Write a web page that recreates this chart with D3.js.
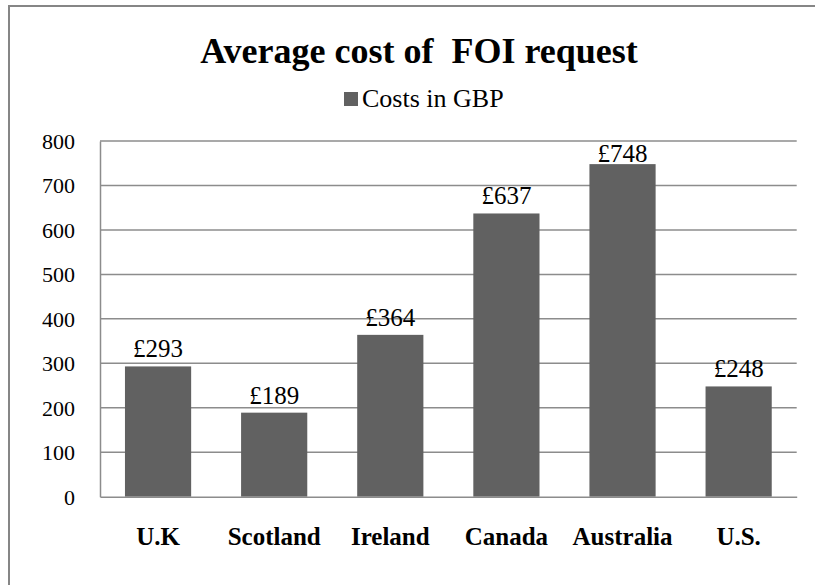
<!DOCTYPE html>
<html>
<head>
<meta charset="utf-8">
<script src="https://cdn.jsdelivr.net/npm/d3@7"></script>
<style>
html,body{margin:0;padding:0;background:#fff;}
svg{display:block;}
</style>
</head>
<body>
<svg id="chart" width="815" height="585"></svg>
<script>
const categories = ["U.K","Scotland","Ireland","Canada","Australia","U.S."];
const costs = [293,189,364,637,748,248];
const valueLabels = ["£293","£189","£364","£637","£748","£248"];
const yTicks = [0,100,200,300,400,500,600,700,800];
const seriesName = "Costs in GBP";
const titleText = "Average cost of  FOI request";

const FONT = "'Liberation Serif', 'Times New Roman', Times, serif";
const svg = d3.select("#chart");
const W = 815, H = 585;
const plot = {left:100, right:796.7, top:141, bottom:496.7};

svg.append("rect")
  .attr("x",9).attr("y",6).attr("width",W+20).attr("height",H+20)
  .attr("fill","#fff").attr("stroke","#868686").attr("stroke-width",2);

const x = d3.scaleBand().domain(categories)
  .range([plot.left, plot.right]).paddingInner(0.43).paddingOuter(0.215);
const y = d3.scaleLinear().domain([0,800]).range([plot.bottom, plot.top]);

svg.append("g").selectAll("line").data(yTicks.filter(d=>d>0)).join("line")
  .attr("x1",plot.left).attr("x2",plot.right)
  .attr("y1",d=>y(d)).attr("y2",d=>y(d))
  .attr("stroke","#8c8c8c").attr("stroke-width",1.5);

const yAxis = d3.axisLeft(y).tickValues(yTicks).tickSize(0).tickPadding(25);
const gy = svg.append("g").attr("transform",`translate(${plot.left},0)`).call(yAxis);
gy.attr("font-family",null).attr("font-size",null);
gy.select(".domain").attr("stroke","#8c8c8c").attr("stroke-width",1.5);
gy.selectAll("text").style("font-family",FONT).style("font-size","22px").style("fill","#000").attr("dy","0.34em");

svg.append("g").selectAll("rect").data(costs).join("rect")
  .attr("x",(d,i)=>x(categories[i]))
  .attr("y",d=>y(d))
  .attr("width",x.bandwidth())
  .attr("height",d=>plot.bottom-y(d))
  .attr("fill","#616161");

const xAxis = d3.axisBottom(x).tickSize(0).tickPadding(31);
const gx = svg.append("g").attr("transform",`translate(0,${plot.bottom})`).call(xAxis);
gx.attr("font-family",null).attr("font-size",null);
gx.select(".domain").attr("stroke","#8c8c8c").attr("stroke-width",1.5);
gx.selectAll("text").style("font-family",FONT).style("font-size","25px").style("font-weight","bold").style("fill","#000");

svg.append("g").selectAll("text").data(costs).join("text")
  .attr("x",(d,i)=>x(categories[i])+x.bandwidth()/2)
  .attr("y",d=>Math.max(y(d)-9, plot.top+21))
  .attr("text-anchor","middle")
  .style("font-family",FONT).style("font-size","25px")
  .text((d,i)=>valueLabels[i]);

svg.append("text").attr("x",419).attr("y",63).attr("text-anchor","middle")
  .style("font-family",FONT).style("white-space","pre")
  .style("font-size","36px").style("font-weight","bold").text(titleText);

const lg = svg.append("g");
lg.append("rect").attr("x",344).attr("y",92).attr("width",14).attr("height",14).attr("fill","#616161");
lg.append("text").attr("x",362).attr("y",107)
  .style("font-family",FONT).style("font-size","26px").text(seriesName);
</script>
</body>
</html>
